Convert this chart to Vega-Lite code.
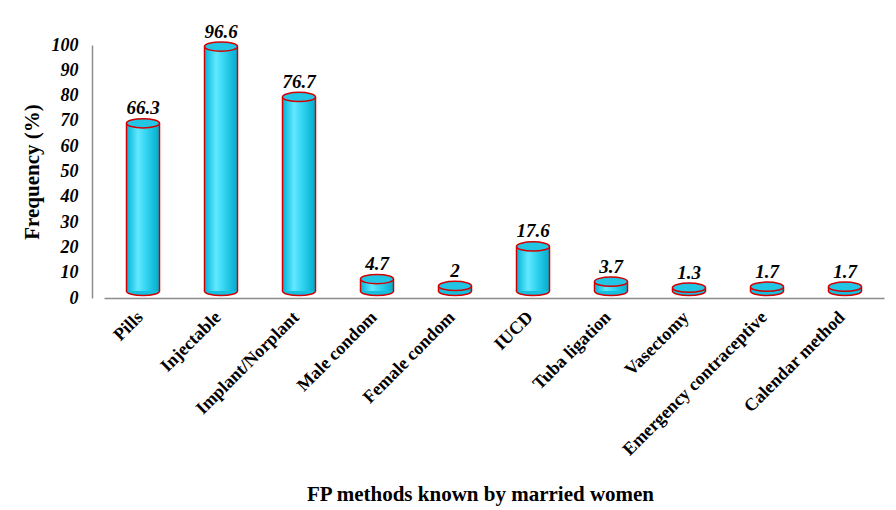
{
  "$schema": "https://vega.github.io/schema/vega-lite/v6.json",
  "width": 780,
  "height": 253,
  "autosize": {"type": "none"},
  "padding": {"left": 104, "top": 45, "right": 12, "bottom": 212},
  "background": "white",
  "config": {"view": {"stroke": null}, "font": "Liberation Serif"},
  "data": {
    "values": [
      {"method": "Pills", "pct": 66.3},
      {"method": "Injectable", "pct": 96.6},
      {"method": "Implant/Norplant", "pct": 76.7},
      {"method": "Male condom", "pct": 4.7},
      {"method": "Female condom", "pct": 2},
      {"method": "IUCD", "pct": 17.6},
      {"method": "Tuba ligation", "pct": 3.7},
      {"method": "Vasectomy", "pct": 1.3},
      {"method": "Emergency contraceptive", "pct": 1.7},
      {"method": "Calendar method", "pct": 1.7}
    ]
  },
  "encoding": {
    "x": {
      "field": "method",
      "type": "nominal",
      "sort": null,
      "scale": {"paddingInner": 0, "paddingOuter": 0},
      "axis": {
        "title": "FP methods known by married women",
        "titleFont": "Liberation Serif",
        "titleFontSize": 21,
        "titleFontWeight": "bold",
        "titleColor": "#000",
        "titleX": 376,
        "titleY": 202,
        "titleBaseline": "alphabetic",
        "titleAlign": "center",
        "labelAngle": -45,
        "labelAlign": "right",
        "labelBaseline": "top",
        "labelFont": "Liberation Serif",
        "labelFontSize": 18,
        "labelFontWeight": "bold",
        "labelColor": "#000",
        "labelPadding": 10,
        "labelOffset": -9,
        "labelLimit": 300,
        "labelOverlap": false,
        "ticks": false,
        "tickSize": 0,
        "domainColor": "#8c8c8c",
        "domainWidth": 1.5
      }
    },
    "y": {
      "field": "pct",
      "type": "quantitative",
      "scale": {"domain": [0, 100]},
      "axis": {
        "tickCount": 10,
        "labelOverlap": false,
        "grid": false,
        "ticks": false,
        "tickSize": 0,
        "offset": 12,
        "labelPadding": 14,
        "labelFont": "Liberation Serif",
        "labelFontSize": 18,
        "labelFontWeight": "bold",
        "labelFontStyle": "italic",
        "labelColor": "#000",
        "domainColor": "#8c8c8c",
        "domainWidth": 1.5,
        "title": "Frequency (%)",
        "titleFont": "Liberation Serif",
        "titleFontSize": 21,
        "titleFontWeight": "bold",
        "titleColor": "#000",
        "titleX": -60,
        "titleBaseline": "middle"
      }
    }
  },
  "layer": [
    {
      "mark": {
        "type": "point",
        "shape": "M-1,0A1,0.28,0,1,0,1,0A1,0.28,0,1,0,-1,0Z",
        "size": 1089,
        "filled": true,
        "fill": "#14c0e0",
        "stroke": "#d40000",
        "strokeWidth": 1.5,
        "opacity": 1,
        "yOffset": -7
      },
      "encoding": {
        "y": {
          "datum": 0,
          "type": "quantitative",
          "scale": {"domain": [0, 100]},
          "axis": {
            "tickCount": 10,
            "labelOverlap": false,
            "grid": false,
            "ticks": false,
            "tickSize": 0,
            "offset": 12,
            "labelPadding": 14,
            "labelFont": "Liberation Serif",
            "labelFontSize": 18,
            "labelFontWeight": "bold",
            "labelFontStyle": "italic",
            "labelColor": "#000",
            "domainColor": "#8c8c8c",
            "domainWidth": 1.5,
            "title": "Frequency (%)",
            "titleFont": "Liberation Serif",
            "titleFontSize": 21,
            "titleFontWeight": "bold",
            "titleColor": "#000",
            "titleX": -60,
            "titleBaseline": "middle"
          }
        }
      }
    },
    {
      "mark": {
        "type": "bar",
        "size": 33,
        "yOffset": -7,
        "y2Offset": -7,
        "fill": {
          "gradient": "linear",
          "x1": 0, "y1": 0, "x2": 1, "y2": 0,
          "stops": [
            {"offset": 0, "color": "#00b4d8"},
            {"offset": 0.35, "color": "#62e8ff"},
            {"offset": 0.55, "color": "#3ad8f4"},
            {"offset": 1, "color": "#00aacc"}
          ]
        }
      }
    },
    {
      "mark": {"type": "rule", "xOffset": -16.5, "yOffset": -7, "y2Offset": -7, "color": "#d40000", "strokeWidth": 1.5},
      "encoding": {"y2": {"datum": 0}}
    },
    {
      "mark": {"type": "rule", "xOffset": 16.5, "yOffset": -7, "y2Offset": -7, "color": "#d40000", "strokeWidth": 1.5},
      "encoding": {"y2": {"datum": 0}}
    },
    {
      "mark": {
        "type": "point",
        "shape": "M-1,0A1,0.28,0,1,0,1,0A1,0.28,0,1,0,-1,0Z",
        "size": 1089,
        "filled": true,
        "fill": "#22c6e4",
        "stroke": "#d40000",
        "strokeWidth": 1.5,
        "opacity": 1,
        "yOffset": -7
      },
      "encoding": {}
    },
    {
      "mark": {
        "type": "text",
        "font": "Liberation Serif",
        "fontSize": 19,
        "fontWeight": "bold",
        "fontStyle": "italic",
        "color": "#000",
        "baseline": "alphabetic",
        "dy": -16
      },
      "encoding": {
        "text": {"field": "pct", "type": "quantitative"}
      }
    }
  ]
}
